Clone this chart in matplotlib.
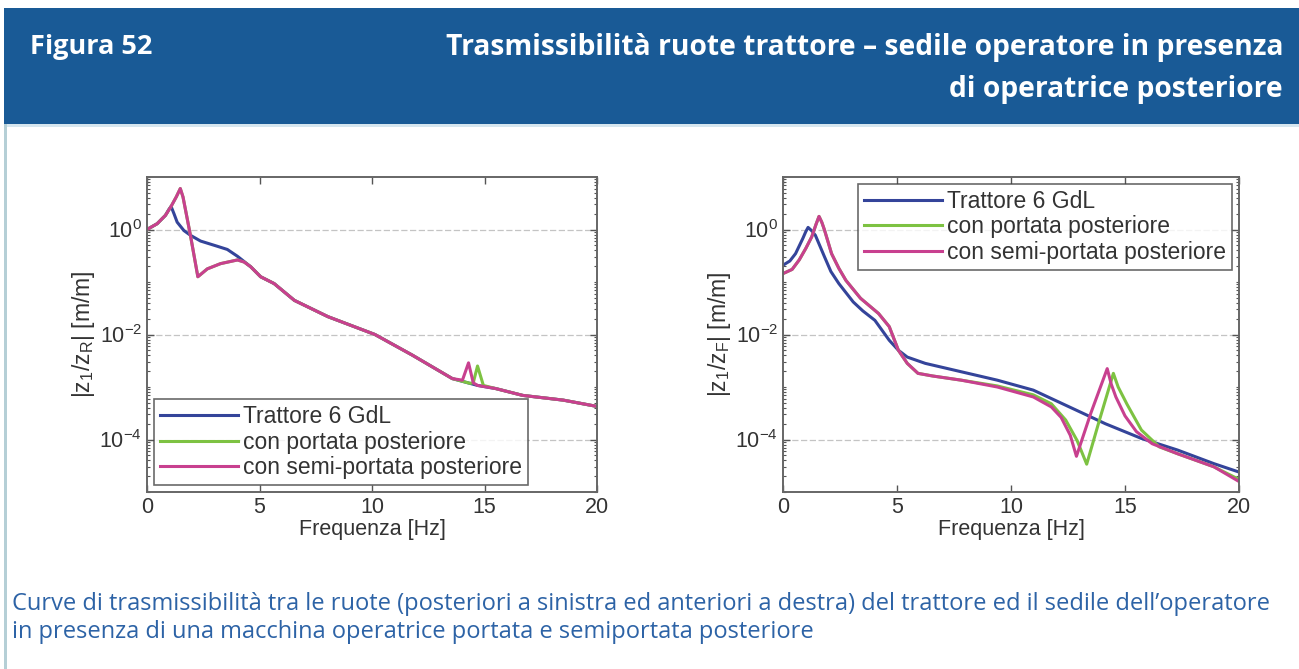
import numpy as np
import matplotlib
matplotlib.use("Agg")
import matplotlib.pyplot as plt
from matplotlib.patches import Rectangle
from matplotlib.ticker import FixedLocator, LogLocator, LogFormatterMathtext, NullFormatter

plt.rcParams['mathtext.default'] = 'regular'

# ---------------- data (log10 of |ratio|) ----------------
# Left panel: rear wheels -> seat
L_blue_f = [0, 0.45, 0.82, 0.97, 1.07, 1.2, 1.34, 1.64, 1.93, 2.38, 3.13, 3.57, 4.02, 4.61, 5.05, 5.65,
            6.55, 8.04, 10.13, 11.78, 13.57, 14.69, 15.5, 16.7, 18.5, 20]
L_blue_l = [0.0, 0.11, 0.27, 0.38, 0.44, 0.30, 0.14, -0.02, -0.11, -0.22, -0.32, -0.38, -0.51, -0.71, -0.90, -1.03,
            -1.35, -1.66, -2.0, -2.39, -2.84, -2.97, -3.03, -3.16, -3.25, -3.37]

L_green_f = [0, 0.45, 0.82, 1.07, 1.3, 1.48, 1.6, 1.93, 2.26, 2.68, 3.27, 4.02, 4.32, 4.61, 5.05, 5.65,
             6.55, 8.04, 10.13, 11.78, 13.57, 14.35, 14.5, 14.69, 14.95, 15.5, 16.7, 18.5, 20]
L_green_l = [0.0, 0.11, 0.27, 0.44, 0.62, 0.78, 0.62, -0.11, -0.90, -0.75, -0.65, -0.58, -0.62, -0.71, -0.90, -1.03,
             -1.35, -1.66, -2.0, -2.39, -2.84, -2.93, -2.92, -2.60, -2.97, -3.03, -3.16, -3.25, -3.37]

L_pink_f = [0, 0.45, 0.82, 1.07, 1.3, 1.48, 1.6, 1.93, 2.26, 2.68, 3.27, 4.02, 4.32, 4.61, 5.05, 5.65,
            6.55, 8.04, 10.13, 11.78, 13.57, 14.02, 14.29, 14.5, 14.69, 15.5, 16.7, 18.5, 20]
L_pink_l = [0.0, 0.11, 0.27, 0.44, 0.62, 0.78, 0.62, -0.11, -0.90, -0.75, -0.65, -0.58, -0.62, -0.71, -0.90, -1.03,
            -1.35, -1.66, -2.0, -2.39, -2.84, -2.87, -2.54, -2.92, -2.97, -3.03, -3.16, -3.25, -3.37]

# Right panel: front wheels -> seat
R_blue_f = [0, 0.3, 0.55, 0.87, 1.0, 1.1, 1.25, 1.42, 1.82, 2.1, 2.45, 3.08, 3.5, 4.03, 4.66, 5.06, 5.45, 6.24, 7.82,
            9.4, 10.98, 12.56, 14.14, 15.72, 17.3, 18.9, 20]
R_blue_l = [-0.68, -0.60, -0.46, -0.17, -0.04, 0.04, -0.02, -0.11, -0.52, -0.80, -1.03, -1.38, -1.55, -1.73, -2.11, -2.30, -2.43, -2.55, -2.71,
            -2.87, -3.06, -3.38, -3.70, -3.98, -4.20, -4.46, -4.62]

R_green_f = [0, 0.4, 0.71, 1.0, 1.26, 1.45, 1.58, 1.7, 1.82, 2.13, 2.45, 2.76, 3.4, 4.19, 4.66, 5.06, 5.45, 5.92, 6.56, 7.82,
             9.4, 10.98, 11.77, 12.4, 12.9, 13.32, 13.9, 14.49, 14.7, 15.09, 15.72, 16.5, 17.3, 18.9, 20]
R_green_l = [-0.84, -0.76, -0.58, -0.36, -0.14, 0.10, 0.25, 0.14, -0.01, -0.46, -0.74, -0.97, -1.31, -1.60, -1.85, -2.30, -2.55, -2.74, -2.79, -2.87,
             -2.98, -3.15, -3.32, -3.63, -4.02, -4.47, -3.60, -2.74, -3.00, -3.33, -3.82, -4.14, -4.27, -4.52, -4.76]

R_pink_f = [0, 0.4, 0.71, 1.0, 1.26, 1.45, 1.58, 1.7, 1.82, 2.13, 2.45, 2.76, 3.4, 4.19, 4.66, 5.06, 5.45, 5.92, 6.56, 7.82,
            9.4, 10.98, 11.77, 12.2, 12.6, 12.87, 13.5, 14.22, 14.4, 14.6, 15.0, 15.5, 16.19, 17.3, 18.9, 20]
R_pink_l = [-0.84, -0.76, -0.58, -0.36, -0.14, 0.10, 0.25, 0.14, -0.01, -0.46, -0.74, -0.97, -1.31, -1.60, -1.85, -2.30, -2.55, -2.74, -2.79, -2.87,
            -3.0, -3.19, -3.38, -3.58, -3.92, -4.32, -3.50, -2.65, -2.95, -3.19, -3.55, -3.85, -4.08, -4.27, -4.52, -4.80]

series_names = ["Trattore 6 GdL", "con portata posteriore", "con semi-portata posteriore"]
series_colors = ["#34449a", "#7dc242", "#c8408f"]
x_ticks = [0, 5, 10, 15, 20]
y_major = [1e-4, 1e-2, 1e0]

title_left = "Figura 52"
title_right = ["Trasmissibilità ruote trattore – sedile operatore in presenza",
               "di operatrice posteriore"]
caption = ["Curve di trasmissibilità tra le ruote (posteriori a sinistra ed anteriori a destra) del trattore ed il sedile dell’operatore",
           "in presenza di una macchina operatrice portata e semiportata posteriore"]

# ---------------- figure ----------------
W, H = 1299, 669
fig = plt.figure(figsize=(W / 100, H / 100), dpi=100)
fig.patch.set_facecolor("white")

def fx(px):
    return px / W

def fy(py):
    return 1 - py / H

# header band
fig.patches.append(Rectangle((fx(4), fy(124)), fx(1299 - 4), (116) / H, transform=fig.transFigure,
                             facecolor="#195a96", edgecolor="none", zorder=0))
# left border line
fig.patches.append(Rectangle((fx(4), fy(669)), fx(3), (669 - 124) / H, transform=fig.transFigure,
                             facecolor="#b5cfd6", edgecolor="none", zorder=0))
fig.patches.append(Rectangle((fx(7), fy(127)), fx(1292), 3 / H, transform=fig.transFigure,
                             facecolor="#d6e6ef", edgecolor="none", zorder=0))

hdr_font = ["Open Sans", "DejaVu Sans"]
fig.text(fx(30), fy(47), title_left, color="white", fontsize=19.5, fontweight="bold",
         family=hdr_font, ha="left", va="center")
fig.text(fx(1283), fy(47), title_right[0], color="white", fontsize=20.3, fontweight="bold",
         family=hdr_font, ha="right", va="center")
fig.text(fx(1283), fy(90), title_right[1], color="white", fontsize=20.3, fontweight="bold",
         family=hdr_font, ha="right", va="center")

fig.text(fx(12), fy(604), caption[0], color="#2d63a6", fontsize=17, family=hdr_font,
         ha="left", va="center")
fig.text(fx(12), fy(632), caption[1], color="#2d63a6", fontsize=17, family=hdr_font,
         ha="left", va="center")

plot_font = ["Liberation Sans", "DejaVu Sans"]
txtc = "#333333"

def make_ax(left_px, right_px, series, ylabel, legend_loc):
    ax = fig.add_axes([fx(left_px), fy(492), fx(right_px - left_px), (492 - 177) / H])
    for (f, l), name, c in zip(series, series_names, series_colors):
        ax.plot(f, 10.0 ** np.array(l), color=c, lw=2.2, label=name, solid_joinstyle="round")
    ax.set_yscale("log")
    ax.set_xlim(0, 20)
    ax.set_ylim(1e-5, 1e1)
    ax.xaxis.set_major_locator(FixedLocator(x_ticks))
    ax.yaxis.set_major_locator(FixedLocator(y_major))
    ax.yaxis.set_major_formatter(LogFormatterMathtext())
    ax.yaxis.set_minor_locator(LogLocator(base=10, subs=np.arange(1, 10), numticks=20))
    ax.yaxis.set_minor_formatter(NullFormatter())
    ax.tick_params(axis="both", which="both", direction="in", top=True, right=True,
                   colors="#555555", labelcolor=txtc, labelsize=15.5)
    ax.tick_params(which="major", length=5, width=1)
    ax.tick_params(which="minor", length=2.5, width=0.8)
    for lab in ax.get_xticklabels() + ax.get_yticklabels():
        lab.set_family(plot_font)
    ax.grid(True, axis="y", which="major", color="#c4c4c4", lw=0.9, ls=(0, (5, 2)))
    ax.set_axisbelow(True)
    for s in ax.spines.values():
        s.set_color("#666666")
        s.set_linewidth(1.4)
    ax.set_xlabel("Frequenza [Hz]", fontsize=15.5, color=txtc, family=plot_font, labelpad=1)
    ax.set_ylabel(ylabel, fontsize=16.5, color=txtc, family=plot_font, labelpad=2)
    leg = ax.legend(loc=legend_loc, prop={"family": plot_font, "size": 16.5},
                    frameon=True, fancybox=False, edgecolor="#444444", handlelength=3.4,
                    borderpad=0.25, labelspacing=0.12, handletextpad=0.25, borderaxespad=0.3)
    leg.get_frame().set_linewidth(1.2)
    for t in leg.get_texts():
        t.set_color(txtc)
    return ax

make_ax(147, 597,
        [(L_blue_f, L_blue_l), (L_green_f, L_green_l), (L_pink_f, L_pink_l)],
        r"|z$_1$/z$_R$| [m/m]", "lower left")
make_ax(783, 1239,
        [(R_blue_f, R_blue_l), (R_green_f, R_green_l), (R_pink_f, R_pink_l)],
        r"|z$_1$/z$_F$| [m/m]", "upper right")

fig.savefig("out.png", dpi=100)
